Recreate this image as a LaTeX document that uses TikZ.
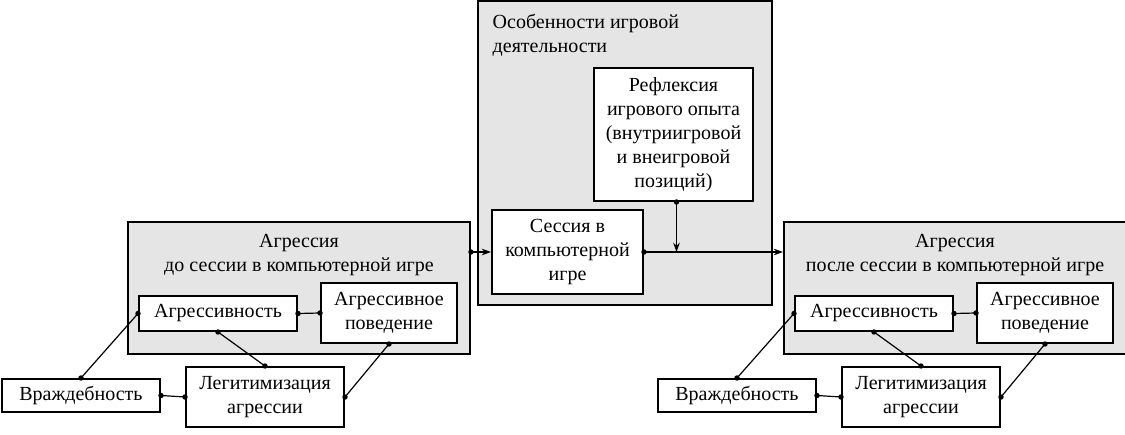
\documentclass[tikz,border=0pt]{standalone}
\usepackage{fontspec}
\setmainfont{Liberation Serif}
\usetikzlibrary{calc,arrows.meta}

\begin{document}
\begin{tikzpicture}[x=0.75pt,y=-0.75pt,
  font=\fontsize{15}{18}\selectfont,
  grp/.style={draw,line width=1.5pt,fill=black!10,inner sep=0pt},
  box/.style={draw,line width=1.5pt,fill=white,align=center,inner sep=0pt},
  link/.style={line width=0.9pt,{Circle[length=4pt]}-{Circle[length=4pt]},shorten <=-2pt,shorten >=-2pt},
  flow/.style={line width=0.9pt,{Circle[length=4pt]}-{Stealth[length=7pt,width=5pt]},shorten <=-2pt}]
\useasboundingbox (0,0) rectangle (1125,435);

\node[grp,minimum width=220.5pt,minimum height=228pt] (G) at (625,153) {};
\node[anchor=north west,align=left] (Gt) at (488,9) {Особенности игровой\\деятельности};
\node[box,minimum width=119.25pt,minimum height=99.75pt] (R) at (673.5,134.5) {Рефлексия\\игрового опыта\\(внутриигровой\\и внеигровой\\позиций)};
\node[box,minimum width=113.25pt,minimum height=63pt] (S) at (567.5,252) {Сессия в\\компьютерной\\игре};

\foreach \g/\dx/\t in {A/0/до, B/656/после} {
\begin{scope}[xshift=\dx*0.75pt]
\node[grp,minimum width=256.5pt,minimum height=99pt] (\g) at (299,288) {};
\node[align=center] (\g-t) at (299,255) {Агрессия\\\t{} сессии в компьютерной игре};
\node[box,minimum width=118.5pt,minimum height=26.25pt] (\g-agr) at (218,313.5) {Агрессивность};
\node[box,minimum width=102pt,minimum height=45pt] (\g-pov) at (389,313) {Агрессивное\\поведение};
\node[box,minimum width=118.5pt,minimum height=24.75pt] (\g-vr) at (81,395.5) {Враждебность};
\node[box,minimum width=118.5pt,minimum height=45pt] (\g-leg) at (265,397) {Легитимизация\\агрессии};
\draw[link] (\g-agr.west) -- (\g-vr.north);
\draw[link] (\g-agr.south) -- (\g-leg.north);
\draw[link] (\g-agr.east) -- (\g-pov.west);
\draw[link] (\g-pov.south) -- (\g-leg.east);
\draw[link] (\g-vr.east) -- (\g-leg.west);
\end{scope}
}

\draw[flow] (A.east |- S.west) -- (S.west);
\draw[flow] (S.east) -- (S.east -| B.west);
\draw[flow] ([xshift=2.25pt]R.south) -- ([xshift=2.25pt]R.south |- S.east);
\end{tikzpicture}
\end{document}
